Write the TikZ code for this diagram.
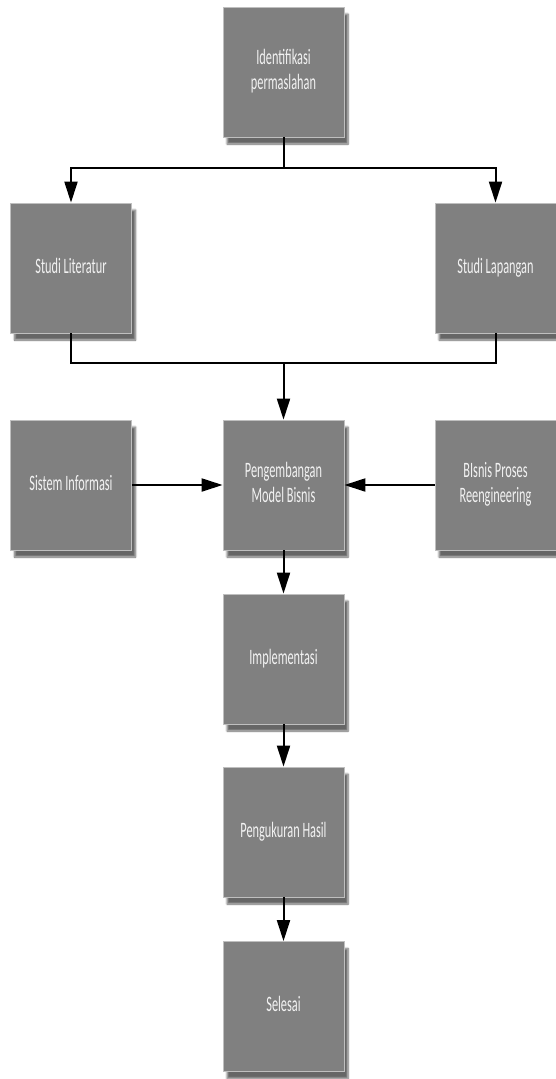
\documentclass[tikz,border=0pt]{standalone}
\usepackage{fontspec}
\setmainfont{Carlito}
\usepackage{graphicx}
\usetikzlibrary{arrows.meta,shadows.blur}

% condensed white label, one or more lines
\newcommand{\boxlabel}[1]{\scalebox{0.56}[1]{\fontsize{22}{25}\selectfont\begin{tabular}{@{}c@{}}#1\end{tabular}}}

\tikzset{
  stepbox/.style={
    rectangle, draw=black!25, line width=0.8pt, fill=black!50,
    minimum width=121pt, minimum height=130pt, inner sep=0pt,
    text=black!5, align=center,
    blur shadow={shadow xshift=4pt, shadow yshift=-7pt, shadow blur steps=6, shadow opacity=60}
  },
  link/.style={draw=black, line width=2pt},
  flow/.style={link, -{Triangle[length=21pt,width=13pt]}}
}

\begin{document}
\begin{tikzpicture}[x=1pt,y=-1pt]
  \useasboundingbox (0,0) rectangle (556,1079);

  \node[stepbox] (ident) at (283.5,72)   {\boxlabel{Identifikasi\\permaslahan}};
  \node[stepbox] (lit)   at (71,268)     {\boxlabel{Studi Literatur}};
  \node[stepbox] (lap)   at (495.5,268)  {\boxlabel{Studi Lapangan}};
  \node[stepbox] (sis)   at (71,485)     {\boxlabel{Sistem Informasi}};
  \node[stepbox] (peng)  at (283.5,485)  {\boxlabel{Pengembangan\\Model Bisnis}};
  \node[stepbox] (bpr)   at (495.5,485)  {\boxlabel{BIsnis Proses\\Reengineering}};
  \node[stepbox] (impl)  at (283.5,659)  {\boxlabel{Implementasi}};
  \node[stepbox] (ukur)  at (283.5,832)  {\boxlabel{Pengukuran Hasil}};
  \node[stepbox] (done)  at (283.5,1006.5) {\boxlabel{Selesai}};

  % split below the first step
  \coordinate (splitA) at (283.5,168);
  \draw[link] (ident.south) -- (splitA);
  \draw[flow] (splitA) -| (lit.north);
  \draw[flow] (splitA) -| (lap.north);

  % join of both studies
  \coordinate (joinB) at (283.5,363);
  \draw[link] (lit.south) |- (joinB) -| (lap.south);
  \draw[flow] (joinB) -- (peng.north);

  % side inputs
  \draw[flow] (sis.east) -- (peng.west);
  \draw[flow] (bpr.west) -- (peng.east);

  % main sequence
  \draw[flow] (peng.south) -- (impl.north);
  \draw[flow] (impl.south) -- (ukur.north);
  \draw[flow] (ukur.south) -- (done.north);
\end{tikzpicture}
\end{document}
